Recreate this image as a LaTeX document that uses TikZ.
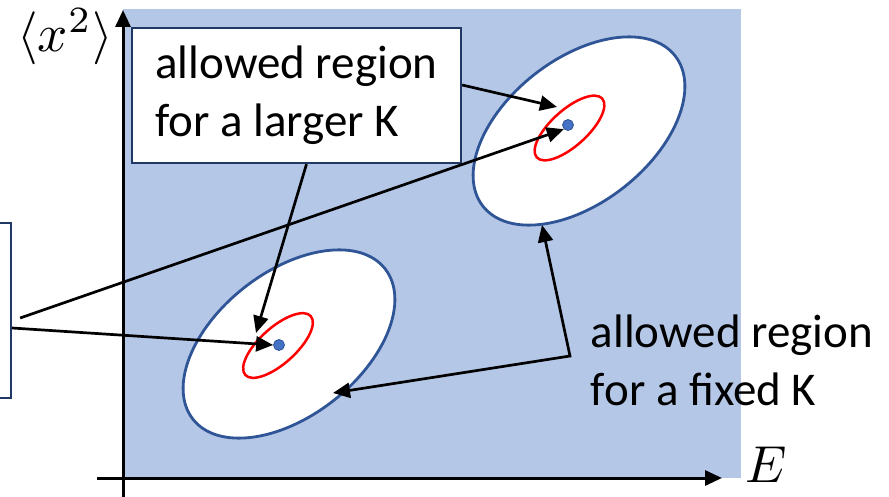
\documentclass[tikz,border=0pt]{standalone}
\usepackage{fontspec}
\usetikzlibrary{arrows.meta}
\newfontfamily\calibri{Carlito}

\definecolor{bgblue}{HTML}{B4C7E7}
\definecolor{rimblue}{HTML}{2F5597}
\definecolor{dotblue}{HTML}{4472C4}
\definecolor{boxnavy}{HTML}{203864}

\tikzset{wedge/.tip={Triangle[length=17pt,width=15pt]}}

\begin{document}
\begin{tikzpicture}[
        x=1pt, y=-1pt,
        axis/.style={line width=3pt, -wedge},
        pointer/.style={line width=2.7pt, -wedge},
        region/.style={draw=rimblue, line width=2.8pt, fill=white},
        inner/.style={draw=red, line width=2.5pt},
        state/.style={circle, fill=dotblue, draw=rimblue, line width=0.8pt,
            inner sep=0pt, minimum size=11pt},
        note/.style={font=\calibri\fontsize{47}{58}\selectfont, align=left},
        notebox/.style={note, draw=boxnavy, line width=2.3pt, fill=white}
    ]
    \clip (0,0) rectangle (889,497);

    % plane and axes
    \fill [bgblue] (123,9) rectangle (741,478);
    \draw [axis] (97,478) -- (722,478);
    \draw [axis] (123,497) -- (123,10);
    \node [scale=5.3] (ylabel) at (65,37) {$\langle x^2\rangle$};
    \node [scale=5.2] (xlabel) at (766,465) {$E$};

    % allowed regions
    \draw [region, rotate around={38:(289,344)}]
        (289,344) ellipse [x radius=122pt, y radius=72pt];
    \draw [region, rotate around={38:(579,131)}]
        (579,131) ellipse [x radius=122pt, y radius=72pt];
    \draw [inner, rotate around={42:(278,345.5)}]
        (278,345.5) ellipse [x radius=44pt, y radius=18pt];
    \draw [inner, rotate around={42:(569.5,128)}]
        (569.5,128) ellipse [x radius=44pt, y radius=18pt];

    \node [state] (lowdot) at (279,345) {};
    \node [state] (highdot) at (568,125) {};

    % labels
    \node [notebox, minimum width=329pt, minimum height=135pt]
        (largerK) at (296.5,95.5) {allowed region\\for a larger K};
    \node [notebox, minimum width=122pt, minimum height=175pt]
        (leftbox) at (-50,310.5) {};
    \node [note] (fixedK) at (732,360) {allowed region\\for a fixed K};

    % arrow ends
    \coordinate (lowrim) at (256,333);
    \coordinate (highrim) at (557,107);
    \coordinate (lowedge) at (333,393);
    \coordinate (highedge) at (542,225);
    \coordinate (bend) at (570,356);

    \draw [pointer] ([xshift=10pt]largerK.south) -- (lowrim);
    \draw [pointer] ([yshift=10.5pt]largerK.east) -- (highrim);
    \draw [pointer] ([yshift=-17.5pt]leftbox.east) -- (lowdot.west);
    \draw [pointer] ([xshift=8pt,yshift=-7.5pt]leftbox.east) -- (highdot.south west);
    \draw [pointer, wedge-wedge] (highedge) -- (bend) -- (lowedge);
\end{tikzpicture}
\end{document}
